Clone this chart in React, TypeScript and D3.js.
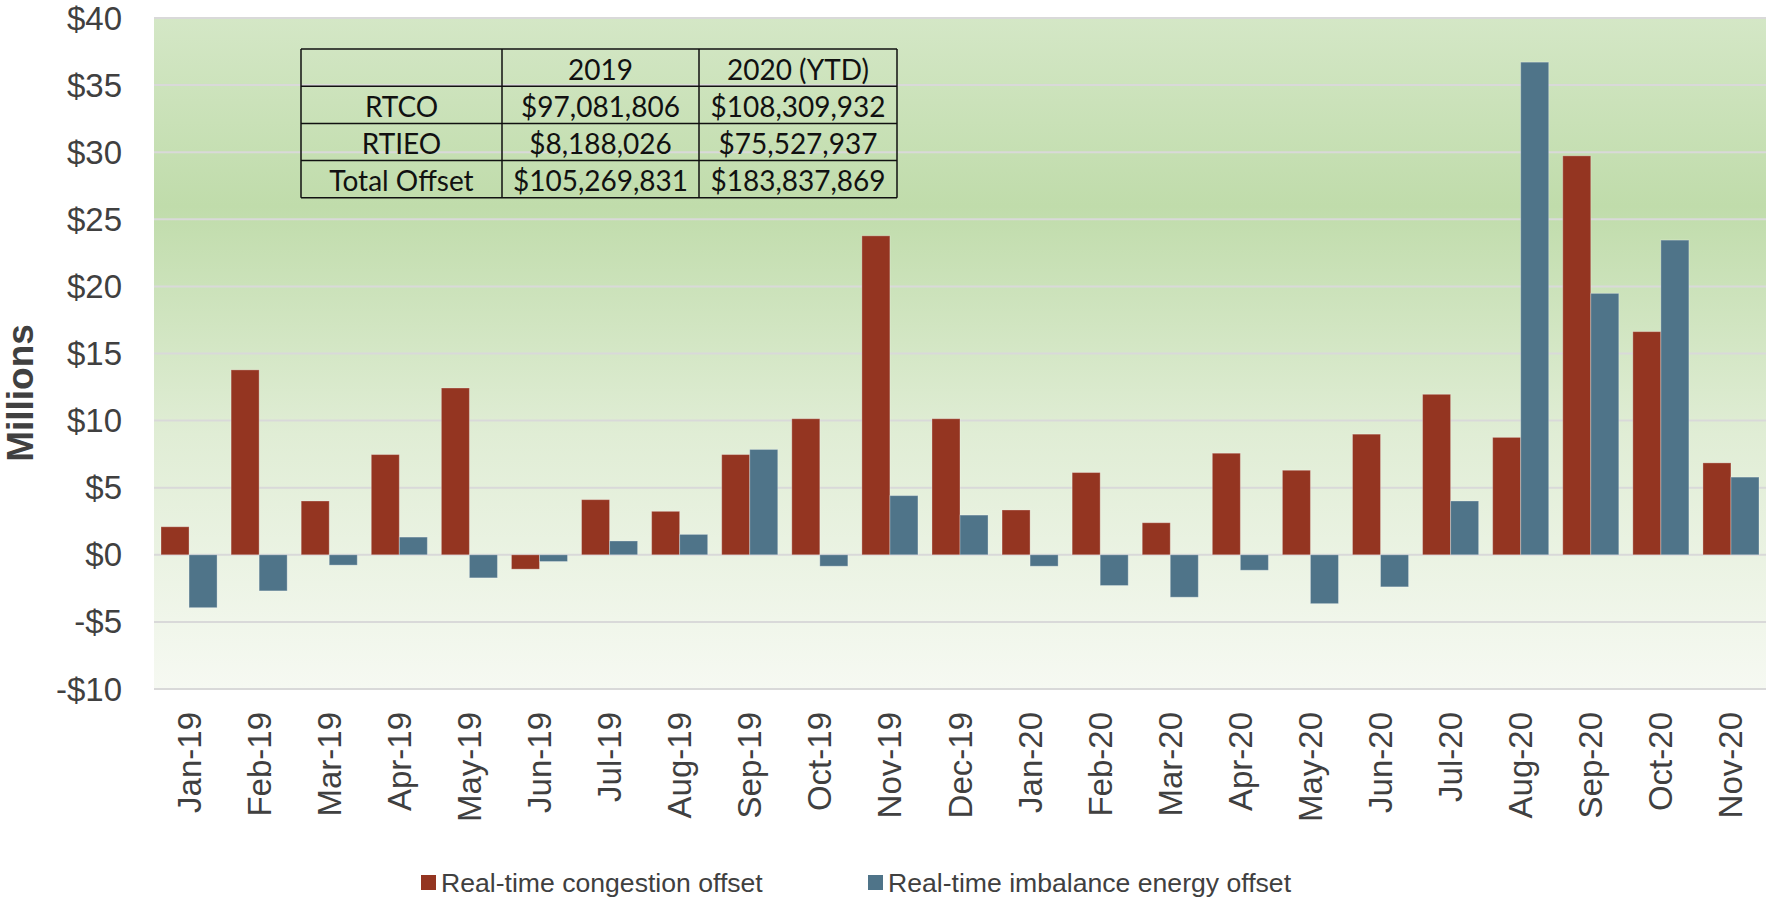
import React from "react";
import * as d3 from "d3";

const months = [
  "Jan-19", "Feb-19", "Mar-19", "Apr-19", "May-19", "Jun-19", "Jul-19", "Aug-19",
  "Sep-19", "Oct-19", "Nov-19", "Dec-19", "Jan-20", "Feb-20", "Mar-20", "Apr-20",
  "May-20", "Jun-20", "Jul-20", "Aug-20", "Sep-20", "Oct-20", "Nov-20",
];

// millions of dollars
const congestion = [
  2.09, 13.78, 4.01, 7.47, 12.43, -1.07, 4.11, 3.24, 7.47, 10.14, 23.77, 10.14,
  3.34, 6.13, 2.39, 7.57, 6.3, 8.99, 11.96, 8.75, 29.73, 16.63, 6.85,
];
const imbalance = [
  -3.94, -2.69, -0.77, 1.32, -1.72, -0.5, 1.03, 1.52, 7.85, -0.85, 4.41, 2.96,
  -0.85, -2.29, -3.16, -1.15, -3.64, -2.39, 4.01, 36.71, 19.48, 23.45, 5.79,
];

const yTicks = [-10, -5, 0, 5, 10, 15, 20, 25, 30, 35, 40];

const tableHeader = ["", "2019", "2020 (YTD)"];
const tableRows = [
  ["RTCO", "$97,081,806", "$108,309,932"],
  ["RTIEO", "$8,188,026", "$75,527,937"],
  ["Total Offset", "$105,269,831", "$183,837,869"],
];

const legendItems = ["Real-time congestion offset", "Real-time imbalance energy offset"];

const W = 1767;
const H = 898;
const left = 154;
const right = 1766;
const top = 18;
const bottom = 689;

const RED = "#943521";
const BLUE = "#4f7489";

export default function App() {
  const x = d3.scaleBand().domain(months).range([left, right]).paddingInner(0.2).paddingOuter(0.1);
  const x1 = d3.scaleBand().domain(["c", "i"]).range([0, x.bandwidth()]);
  const y = d3.scaleLinear().domain([-10, 40]).range([bottom, top]);

  const fmt = (v: number) => (v < 0 ? "-$" + Math.abs(v) : "$" + v);

  const barRect = (v: number, key: string, i: number, k: string, color: string) => {
    const y0 = y(0);
    const yv = y(v);
    return (
      <rect
        key={key}
        x={(x(months[i]) as number) + (x1(k) as number)}
        y={Math.min(y0, yv)}
        width={x1.bandwidth()}
        height={Math.abs(y0 - yv)}
        fill={color}
        stroke="#ffffff"
        strokeOpacity={0.3}
        strokeWidth={1}
      />
    );
  };

  // table layout
  const tX = [301, 502, 699, 897];
  const tY0 = 49;
  const rowH = 37.2;

  return (
    <div style={{ position: "absolute", left: 0, top: 0 }}>
      <svg width={W} height={H} style={{ display: "block", background: "#fff" }}>
        <defs>
          <linearGradient id="bg" x1="0" y1="0" x2="0" y2="1">
            <stop offset="0" stopColor="#d4e7c6" />
            <stop offset="0.28" stopColor="#c0dcab" />
            <stop offset="0.62" stopColor="#e0edd5" />
            <stop offset="1" stopColor="#f6f9f2" />
          </linearGradient>
        </defs>
        <rect x={left} y={top} width={right - left} height={bottom - top} fill="url(#bg)" />
        {yTicks.map((t) => (
          <line key={"g" + t} x1={left} x2={right} y1={y(t)} y2={y(t)} stroke="#d9d9d9" strokeWidth={2} />
        ))}
        <g fontFamily="'Liberation Sans', Arial, sans-serif" fontSize={33} fill="#404040">
          {yTicks.map((t) => (
            <text key={"t" + t} x={122} y={y(t)} textAnchor="end" dominantBaseline="central">
              {fmt(t)}
            </text>
          ))}
          {months.map((m) => {
            const cx = (x(m) as number) + x.bandwidth() / 2;
            return (
              <text
                key={"m" + m}
                transform={`translate(${cx},${712}) rotate(-90)`}
                textAnchor="end"
                dominantBaseline="central"
              >
                {m}
              </text>
            );
          })}
        </g>
        <text
          transform={`translate(20,393) rotate(-90)`}
          textAnchor="middle"
          dominantBaseline="central"
          fontFamily="'Liberation Sans', Arial, sans-serif"
          fontWeight="bold"
          fontSize={37}
          fill="#404040"
        >
          Millions
        </text>
        <g>
          {congestion.map((v, i) => barRect(v, "c" + i, i, "c", RED))}
          {imbalance.map((v, i) => barRect(v, "i" + i, i, "i", BLUE))}
        </g>
        {/* summary table */}
        <g fontFamily="Lato, 'Open Sans', sans-serif" fontSize={28} fill="#111">
          {[tableHeader, ...tableRows].map((row, r) =>
            row.map((cell, c) => (
              <text
                key={`cell${r}-${c}`}
                x={(tX[c] + tX[c + 1]) / 2}
                y={tY0 + rowH * r + rowH / 2 + 1}
                textAnchor="middle"
                dominantBaseline="central"
              >
                {cell}
              </text>
            ))
          )}
          {[0, 1, 2, 3, 4].map((r) => (
            <line key={"hr" + r} x1={tX[0]} x2={tX[3]} y1={tY0 + rowH * r} y2={tY0 + rowH * r} stroke="#111" strokeWidth={1.5} />
          ))}
          {tX.map((tx, c) => (
            <line key={"vr" + c} x1={tx} x2={tx} y1={tY0} y2={tY0 + rowH * 4} stroke="#111" strokeWidth={1.5} />
          ))}
        </g>
        {/* legend */}
        <g fontFamily="'Liberation Sans', Arial, sans-serif" fontSize={26.6} fill="#404040">
          {legendItems.map((label, i) => {
            const lx = i === 0 ? 421 : 868;
            return (
              <g key={label}>
                <rect x={lx} y={875} width={15} height={15} fill={i === 0 ? RED : BLUE} />
                <text x={lx + 20} y={883} dominantBaseline="central">
                  {label}
                </text>
              </g>
            );
          })}
        </g>
      </svg>
    </div>
  );
}
